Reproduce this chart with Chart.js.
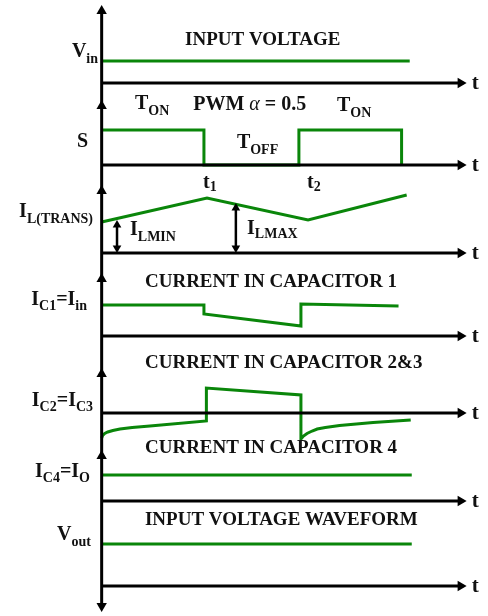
<!DOCTYPE html>
<html>
<head>
<meta charset="utf-8">
<script src="https://cdn.jsdelivr.net/npm/chart.js@4"></script>
<style>
  html, body { margin: 0; padding: 0; background: #fff; }
  #wrap { width: 488px; height: 616px; position: relative; }
</style>
</head>
<body>
<div id="wrap"><canvas id="c"></canvas></div>
<script>
// time is in switching periods (t1 ~ 1, t2 ~ 1.95)
// panel labels, top to bottom. _{..} = subscript, *..* = italic
const panelNames = ['V_{in}', 'S', 'I_{L(TRANS)}', 'I_{C1}=I_{in}', 'I_{C2}=I_{C3}', 'I_{C4}=I_{O}', 'V_{out}'];
const panelTitles = ['INPUT VOLTAGE', 'CURRENT IN CAPACITOR 1', 'CURRENT IN CAPACITOR 2&3', 'CURRENT IN CAPACITOR 4', 'INPUT VOLTAGE WAVEFORM'];
const switchLabels = ['T_{ON}', 'PWM *α* = 0.5', 'T_{ON}', 'T_{OFF}', 't_{1}', 't_{2}'];
const rippleLabels = ['I_{LMIN}', 'I_{LMAX}'];
const axisName = 't';

// waveforms: time and level above the panel's own time axis
const vinT = [0, 3.03];
const vinV = [22, 22];
const sT = [0, 1.006, 1.006, 1.94, 1.94, 2.95, 2.95];
const sV = [35, 35, 0, 0, 35, 35, 0];
const ilT = [0, 1.036, 2.03, 3.0];
const ilV = [31, 55, 33, 58];
const ic1T = [0, 1.006, 1.006, 1.96, 1.96, 2.92];
const ic1V = [31, 31, 22, 10, 32, 30];
const ic2T = [0, 0.01, 0.03, 0.06, 0.11, 0.18, 0.3, 0.475, 1.03, 1.03, 1.96, 1.96, 1.985, 2.02, 2.07, 2.12, 2.2, 2.34, 2.67, 3.04];
const ic2V = [-25, -22.5, -20.5, -19, -17.5, -16, -14.5, -13, -8, 25, 18, -26, -23, -20.5, -18, -16, -14.5, -12.5, -9.5, -7];
const ic4T = [0, 3.05];
const ic4V = [26, 26];
const voutT = [0, 3.05];
const voutV = [42, 42];
const ilminAt = 0.151, ilminH = 33;
const ilmaxAt = 1.32, ilmaxH = 50;

// layout (y units from the bottom of the page)
const axisBase = [533, 451, 363, 280, 203, 115, 30];
const upArrowTips = [611, 516, 431, 343, 248, 166];
const downArrowTip = 4;
const axisEnd = 3.59;
const GREEN = '#0a860a';
const AR = 6;             // arrow size, px
const xUnit = 101.67;     // px per time unit

function pts(ts, vs, base) {
  return ts.map((t, i) => ({ x: t, y: base + vs[i] }));
}
function trace(ts, vs, base) {
  return {
    data: pts(ts, vs, base), showLine: true, borderColor: GREEN, borderWidth: 3,
    pointRadius: 0, borderJoinStyle: 'miter', borderCapStyle: 'butt'
  };
}
function arrowLine(data, radii, rots, width) {
  return {
    data, showLine: true, borderColor: '#000', borderWidth: width,
    pointStyle: 'triangle', pointRadius: radii, pointRotation: rots,
    pointBackgroundColor: '#000', pointBorderWidth: 0, pointBorderColor: '#000'
  };
}

const datasets = [];
// time axes with arrow heads
axisBase.forEach(b => {
  datasets.push(arrowLine([{ x: 0, y: b }, { x: axisEnd - AR / xUnit, y: b }], [0, AR], [0, 90], 3));
});
// vertical axis with an arrow above each panel
const vData = upArrowTips.map(t => ({ x: 0, y: t - AR }));
vData.push({ x: 0, y: downArrowTip + AR });
datasets.push(arrowLine(vData, vData.map(() => AR), vData.map((d, i) => i === vData.length - 1 ? 180 : 0), 3));
// ripple markers
[[ilminAt, ilminH], [ilmaxAt, ilmaxH]].forEach(([at, h]) => {
  const b = axisBase[2];
  datasets.push(arrowLine([{ x: at, y: b + 5 }, { x: at, y: b + h - 5 }], [5, 5], [180, 0], 2.5));
});
// waveforms
datasets.push(trace(vinT, vinV, axisBase[0]));
datasets.push(trace(sT, sV, axisBase[1]));
datasets.push(trace(ilT, ilV, axisBase[2]));
datasets.push(trace(ic1T, ic1V, axisBase[3]));
datasets.push(trace(ic2T, ic2V, axisBase[4]));
datasets.push(trace(ic4T, ic4V, axisBase[5]));
datasets.push(trace(voutT, voutV, axisBase[6]));

// text placement
const labelLayout = [
  { text: panelNames[0], x: -0.036, y: 564, align: 'right', size: 20, sub: 14, drop: 7 },
  { text: panelNames[1], x: -0.134, y: 474, align: 'right', size: 20, sub: 14, drop: 7 },
  { text: panelNames[2], x: -0.085, y: 404, align: 'right', size: 20, sub: 14, drop: 7 },
  { text: panelNames[3], x: -0.144, y: 316, align: 'right', size: 20, sub: 14, drop: 6 },
  { text: panelNames[4], x: -0.085, y: 215, align: 'right', size: 20, sub: 14, drop: 6 },
  { text: panelNames[5], x: -0.115, y: 144, align: 'right', size: 20, sub: 14, drop: 6 },
  { text: panelNames[6], x: -0.105, y: 81, align: 'right', size: 20, sub: 14, drop: 7 },
  { text: panelTitles[0], x: 0.82, y: 576, size: 19 },
  { text: panelTitles[1], x: 0.426, y: 334, size: 19 },
  { text: panelTitles[2], x: 0.426, y: 253, size: 19 },
  { text: panelTitles[3], x: 0.426, y: 168, size: 19 },
  { text: panelTitles[4], x: 0.426, y: 96, size: 19 },
  { text: switchLabels[0], x: 0.328, y: 512, size: 20, sub: 14, drop: 7 },
  { text: switchLabels[1], x: 0.90, y: 511, size: 20, sub: 14, drop: 7 },
  { text: switchLabels[2], x: 2.315, y: 510, size: 20, sub: 14, drop: 7 },
  { text: switchLabels[3], x: 1.33, y: 473, size: 20, sub: 14, drop: 7 },
  { text: switchLabels[4], x: 0.997, y: 433, size: 20, sub: 14, drop: 4 },
  { text: switchLabels[5], x: 2.02, y: 433, size: 20, sub: 14, drop: 4 },
  { text: rippleLabels[0], x: 0.279, y: 386, size: 20, sub: 14, drop: 7 },
  { text: rippleLabels[1], x: 1.43, y: 387, size: 20, sub: 14, drop: 5 }
];
axisBase.forEach(b => labelLayout.push({ text: axisName, x: 3.64, y: b - 1, size: 21 }));

function runs(str) {
  const out = [];
  const re = /_\{([^}]*)\}|\*([^*]*)\*/g;
  let last = 0, m;
  while ((m = re.exec(str))) {
    if (m.index > last) out.push({ t: str.slice(last, m.index) });
    if (m[1] !== undefined) out.push({ t: m[1], sub: true });
    else out.push({ t: m[2], it: true });
    last = re.lastIndex;
  }
  if (last < str.length) out.push({ t: str.slice(last) });
  return out;
}

const textPlugin = {
  id: 'texts',
  afterDatasetsDraw(chart) {
    const { ctx, scales: { x, y } } = chart;
    ctx.save();
    ctx.fillStyle = '#111';
    ctx.textBaseline = 'middle';
    labelLayout.forEach(l => {
      const parts = runs(l.text);
      const font = p => (p.it ? 'italic ' : 'bold ') + (p.sub ? l.sub : l.size) + 'px "Liberation Serif"';
      let w = 0;
      parts.forEach(p => { ctx.font = font(p); w += ctx.measureText(p.t).width; });
      let px = x.getPixelForValue(l.x);
      if (l.align === 'right') px -= w;
      const py = y.getPixelForValue(l.y);
      parts.forEach(p => {
        ctx.font = font(p);
        ctx.fillText(p.t, px, p.sub ? py + l.drop : py);
        px += ctx.measureText(p.t).width;
      });
    });
    ctx.restore();
  }
};

new Chart(document.getElementById('c'), {
  type: 'scatter',
  data: { datasets },
  options: {
    responsive: true,
    maintainAspectRatio: false,
    animation: false,
    events: [],
    layout: { padding: 0, autoPadding: false },
    plugins: { legend: { display: false }, tooltip: { enabled: false } },
    scales: {
      x: { type: 'linear', min: -1, max: 3.8, display: false },
      y: { type: 'linear', min: 0, max: 616, display: false }
    }
  },
  plugins: [textPlugin]
});
</script>
</body>
</html>
